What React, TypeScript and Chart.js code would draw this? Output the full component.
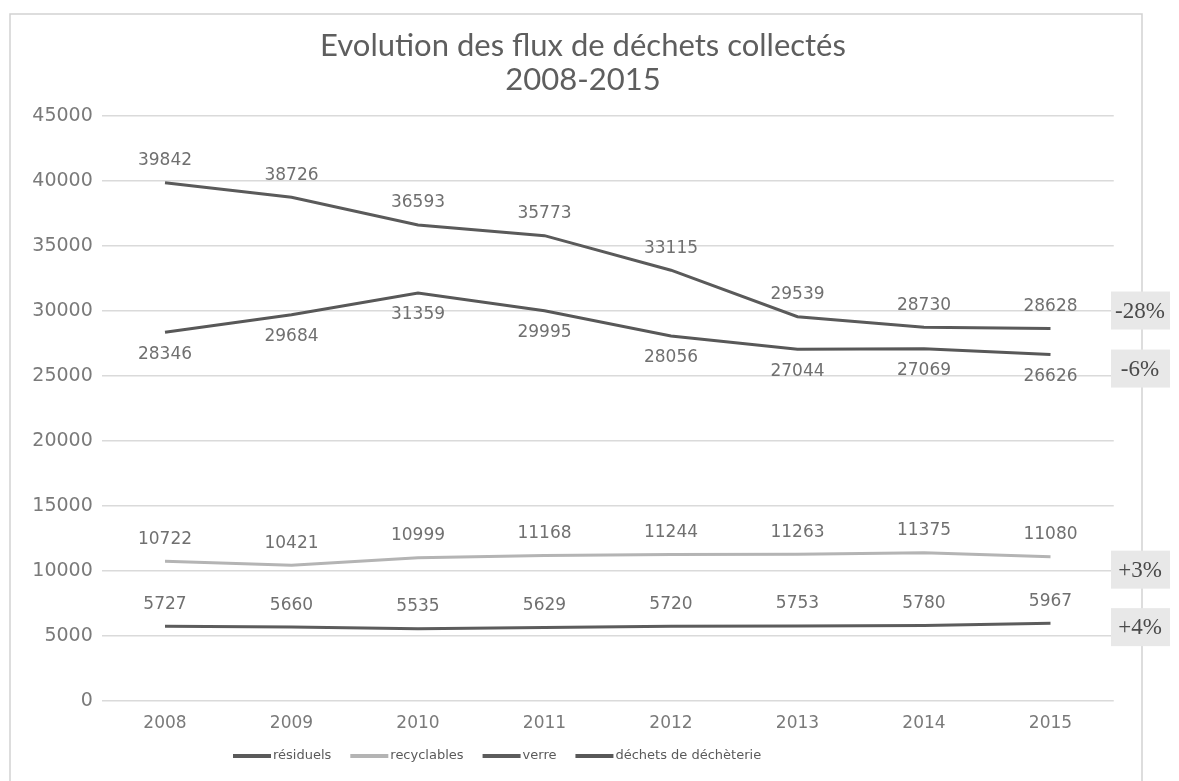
import React, { useEffect, useRef } from "react";
import { Chart, registerables } from "chart.js";

Chart.register(...registerables);

const years = ["2008", "2009", "2010", "2011", "2012", "2013", "2014", "2015"];
const seriesNames = ["résiduels", "recyclables", "verre", "déchets de déchèterie"];
const residuels = [39842, 38726, 36593, 35773, 33115, 29539, 28730, 28628];
const recyclables = [10722, 10421, 10999, 11168, 11244, 11263, 11375, 11080];
const verre = [5727, 5660, 5535, 5629, 5720, 5753, 5780, 5967];
const decheterie = [28346, 29684, 31359, 29995, 28056, 27044, 27069, 26626];
const evolutions = ["-28%", "+3%", "+4%", "-6%"];
const titleLines = ["Evolution des flux de déchets collectés", "2008-2015"];
const yMin = 0;
const yMax = 45000;
const yStep = 5000;

const seriesColors = ["#5a5a5a", "#b4b4b4", "#5c5c5c", "#585858"];
const labelBelow = [false, false, false, true];
const boxOffsets = [-18, 13, 4, 14];

const decorPlugin = {
  id: "decor",
  beforeDraw(chart: any) {
    const ctx = chart.ctx;
    ctx.save();
    ctx.fillStyle = "#ffffff";
    ctx.fillRect(0, 0, chart.width, chart.height);
    ctx.strokeStyle = "#d2d2d2";
    ctx.lineWidth = 1.5;
    ctx.strokeRect(10, 14, 1132, 800);
    ctx.restore();
  },
  afterDatasetsDraw(chart: any) {
    const ctx = chart.ctx;
    ctx.save();
    ctx.font = "17px 'DejaVu Sans'";
    ctx.fillStyle = "#707070";
    ctx.textAlign = "center";
    ctx.textBaseline = "middle";
    chart.data.datasets.forEach((ds: any, i: number) => {
      const meta = chart.getDatasetMeta(i);
      meta.data.forEach((pt: any, j: number) => {
        const dy = labelBelow[i] ? 22 : -22;
        ctx.fillText(String(ds.data[j]), pt.x, pt.y + dy);
      });
    });
    chart.data.datasets.forEach((ds: any, i: number) => {
      const meta = chart.getDatasetMeta(i);
      const last = meta.data[meta.data.length - 1];
      const cy = last.y + boxOffsets[i];
      ctx.fillStyle = "#e8e8e8";
      ctx.fillRect(1111, cy - 19, 59, 38);
      ctx.fillStyle = "#4a4a4a";
      ctx.font = "23px 'Liberation Serif'";
      ctx.textAlign = "center";
      ctx.textBaseline = "middle";
      ctx.fillText(evolutions[i], 1140, cy + 1);
    });
    ctx.restore();
  },
  afterDraw(chart: any) {
    const ctx = chart.ctx;
    ctx.save();
    ctx.fillStyle = "#5e5e5e";
    ctx.font = "31px Lato";
    ctx.textAlign = "center";
    ctx.textBaseline = "middle";
    ctx.fillText(titleLines[0], 583, 46);
    ctx.fillText(titleLines[1], 583, 80);
    let x = 233;
    const y = 756;
    ctx.font = "13px 'DejaVu Sans'";
    ctx.textAlign = "left";
    ctx.textBaseline = "middle";
    chart.data.datasets.forEach((ds: any) => {
      ctx.strokeStyle = ds.borderColor;
      ctx.lineWidth = 4;
      ctx.beginPath();
      ctx.moveTo(x, y);
      ctx.lineTo(x + 38, y);
      ctx.stroke();
      ctx.fillStyle = "#5a5a5a";
      ctx.fillText(ds.label, x + 40, y);
      x += 40 + ctx.measureText(ds.label).width + 19;
    });
    ctx.restore();
  },
};

export default function App() {
  const ref = useRef<HTMLCanvasElement>(null);
  useEffect(() => {
    if (!ref.current) return;
    const allSeries = [residuels, recyclables, verre, decheterie];
    const chart = new Chart(ref.current, {
      type: "line",
      data: {
        labels: years,
        datasets: allSeries.map((d, i) => ({
          label: seriesNames[i],
          data: d,
          borderColor: seriesColors[i],
          backgroundColor: seriesColors[i],
          borderWidth: 3,
          pointRadius: 0,
          tension: 0,
          fill: false,
        })),
      },
      options: {
        animation: false,
        responsive: false,
        devicePixelRatio: 1,
        layout: { padding: { left: 0, right: 65.25, top: 115.7, bottom: 47.3 } },
        plugins: {
          legend: { display: false },
          title: { display: false },
          tooltip: { enabled: false },
        },
        scales: {
          x: {
            offset: true,
            grid: { display: false },
            border: { display: false },
            ticks: {
              color: "#7a7a7a",
              font: { family: "'DejaVu Sans'", size: 17 },
              padding: 5,
            },
            afterFit: (s: any) => {
              s.height = 33;
            },
          },
          y: {
            min: yMin,
            max: yMax,
            border: { display: false },
            grid: { color: "#dadada", lineWidth: 1.5, drawTicks: false },
            ticks: {
              stepSize: yStep,
              color: "#7a7a7a",
              font: { family: "'DejaVu Sans'", size: 19 },
              padding: 9,
              callback: (v: any) => String(v),
            },
            afterFit: (s: any) => {
              s.width = 101.75;
            },
          },
        },
      },
      plugins: [decorPlugin],
    });
    return () => chart.destroy();
  }, []);
  return (
    <div style={{ position: "absolute", left: 0, top: 0, width: 1179, height: 781 }}>
      <canvas ref={ref} width={1179} height={781} style={{ width: 1179, height: 781 }} />
    </div>
  );
}
